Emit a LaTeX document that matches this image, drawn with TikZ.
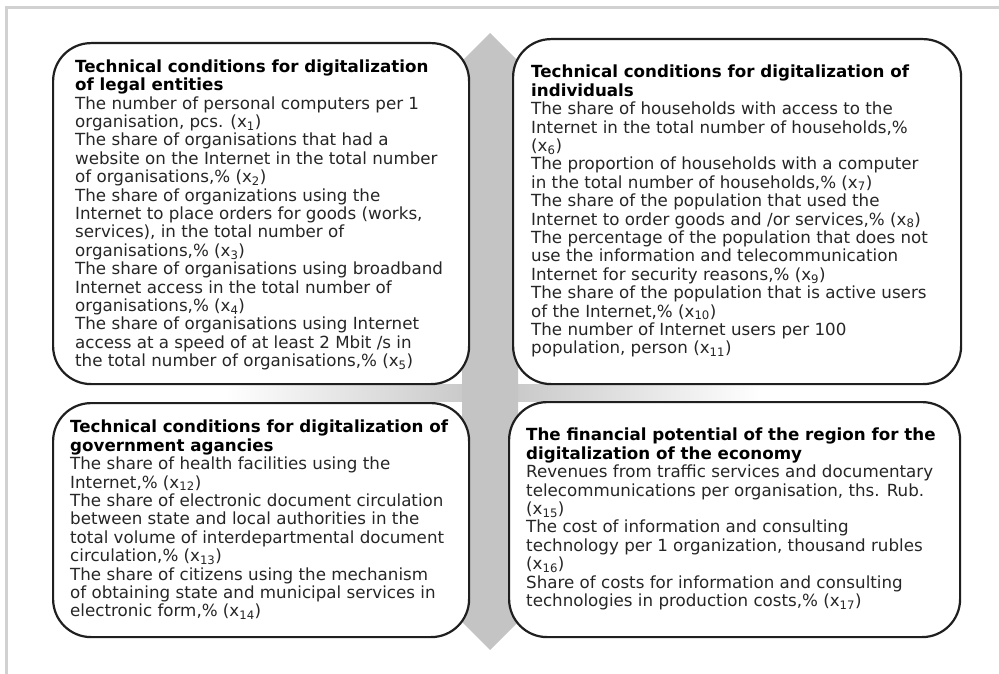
\documentclass[tikz,border=0pt]{standalone}
\usepackage{fontspec}
\setmainfont{DejaVu Sans}
\newcommand{\xs}[1]{(x\textsubscript{#1})}
\begin{document}
\begin{tikzpicture}[x=1pt,y=-1pt,
  panel/.style={draw=black!88, line width=2.2pt, rounded corners=38pt, fill=white, inner sep=0pt, anchor=north west},
  body/.style={anchor=north west, align=left, inner sep=0pt, font=\fontsize{16.7}{18.4}\selectfont, text=black!85},
]
\definecolor{arrowgray}{RGB}{196,196,196}
\useasboundingbox (0,0) rectangle (999,674);
\fill[white] (0,0) rectangle (999,674);
\draw[black!18, line width=3pt] (6,674) -- (6,8) -- (999,8);
% gray cross
\shade[left color=white, right color=arrowgray] (225,384) rectangle (490,401);
\shade[left color=arrowgray, right color=white] (490,384) rectangle (760,401);
\fill[arrowgray] (490,33) -- (518,61) -- (518,622) -- (490,650) -- (462,622) -- (462,61) -- cycle;
% panels
\node[panel, minimum width=416pt, minimum height=341pt] (b1) at (52,42) {};
\node[panel, minimum width=448pt, minimum height=345pt] (b2) at (512,38) {};
\node[panel, minimum width=416pt, minimum height=234pt] (b3) at (52,402) {};
\node[panel, minimum width=451pt, minimum height=235pt] (b4) at (508,401) {};
% texts
\node[body] (t1) at (75,59.5) {\textbf{\color{black}Technical conditions for digitalization}\\
\textbf{\color{black}of legal entities}\\
The number of personal computers per 1\\
organisation, pcs. \xs{1}\\
The share of organisations that had a\\
website on the Internet in the total number\\
of organisations,\% \xs{2}\\
The share of organizations using the\\
Internet to place orders for goods (works,\\
services), in the total number of\\
organisations,\% \xs{3}\\
The share of organisations using broadband\\
Internet access in the total number of\\
organisations,\% \xs{4}\\
The share of organisations using Internet\\
access at a speed of at least 2 Mbit /s in\\
the total number of organisations,\% \xs{5}};
\node[body] (t2) at (531,65) {\textbf{\color{black}Technical conditions for digitalization of}\\
\textbf{\color{black}individuals}\\
The share of households with access to the\\
Internet in the total number of households,\%\\
\xs{6}\\
The proportion of households with a computer\\
in the total number of households,\% \xs{7}\\
The share of the population that used the\\
Internet to order goods and /or services,\% \xs{8}\\
The percentage of the population that does not\\
use the information and telecommunication\\
Internet for security reasons,\% \xs{9}\\
The share of the population that is active users\\
of the Internet,\% \xs{10}\\
The number of Internet users per 100\\
population, person \xs{11}};
\node[body] (t3) at (70,420) {\textbf{\color{black}Technical conditions for digitalization of}\\
\textbf{\color{black}government agancies}\\
The share of health facilities using the\\
Internet,\% \xs{12}\\
The share of electronic document circulation\\
between state and local authorities in the\\
total volume of interdepartmental document\\
circulation,\% \xs{13}\\
The share of citizens using the mechanism\\
of obtaining state and municipal services in\\
electronic form,\% \xs{14}};
\node[body] (t4) at (526,428) {\textbf{\color{black}The financial potential of the region for the}\\
\textbf{\color{black}digitalization of the economy}\\
Revenues from traffic services and documentary\\
telecommunications per organisation, ths. Rub.\\
\xs{15}\\
The cost of information and consulting\\
technology per 1 organization, thousand rubles\\
\xs{16}\\
Share of costs for information and consulting\\
technologies in production costs,\% \xs{17}};
\end{tikzpicture}
\end{document}
